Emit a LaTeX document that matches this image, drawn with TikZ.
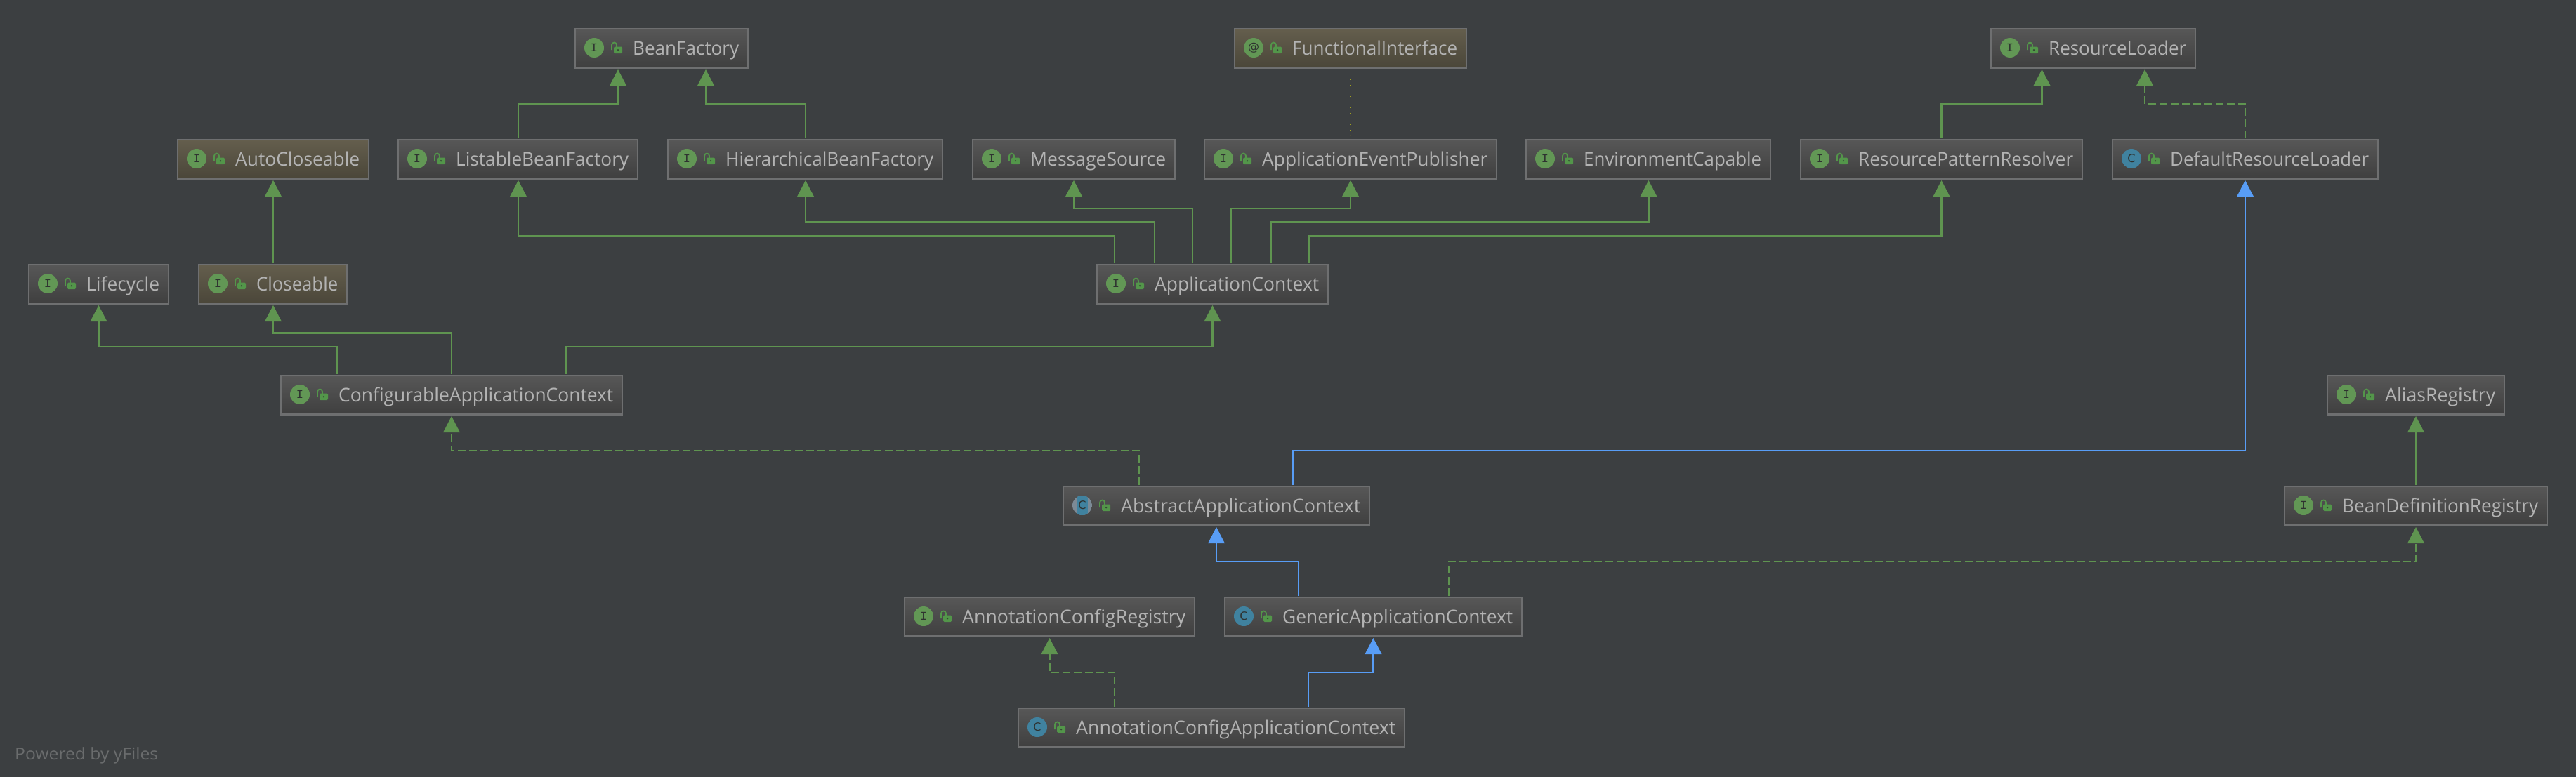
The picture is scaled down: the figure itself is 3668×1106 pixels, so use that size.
\documentclass[tikz,border=0pt]{standalone}
\usepackage{graphicx}
\usepackage{fontspec}
\setmainfont{Open Sans}
\newfontfamily\icomono{Liberation Mono}
\newfontfamily\icosans{DejaVu Sans}
\usetikzlibrary{arrows.meta,calc}
\definecolor{bgc}{HTML}{3C3F41}
\definecolor{bordc}{HTML}{6E6F70}
\definecolor{gtop}{HTML}{575757}
\definecolor{gbot}{HTML}{3F3F3F}
\definecolor{atop}{HTML}{645E4D}
\definecolor{abot}{HTML}{4A4639}
\definecolor{txtc}{HTML}{B3B3B3}
\definecolor{grn}{HTML}{5F9450}
\definecolor{blu}{HTML}{589DF6}
\definecolor{ifc}{HTML}{629755}
\definecolor{clsc}{HTML}{40829F}
\definecolor{absc}{HTML}{7C8A96}
\definecolor{lockc}{HTML}{53964A}
\definecolor{dotc}{HTML}{A0A020}
\definecolor{icod}{HTML}{2E3230}
\definecolor{pwr}{HTML}{6A6C6D}
\tikzset{
  x=1pt,y=-1pt,
  plainbox/.style={draw=bordc,line width=2pt,rectangle,inner sep=0pt,top color=gtop,bottom color=gbot},
  annobox/.style={draw=bordc,line width=2pt,rectangle,inner sep=0pt,top color=atop,bottom color=abot},
  lbl/.style={anchor=base west,inner sep=0pt,text=txtc,font=\fontsize{27}{30}\selectfont},
  icoi/.style={inner sep=0pt,text=icod,font=\icomono\fontsize{17}{17}\selectfont},
  icoc/.style={inner sep=0pt,text=icod,font=\icosans\fontsize{16}{16}\selectfont},
  solidg/.style={draw=grn,line width=2.2pt,shorten <=1pt,shorten >=1pt,-{Triangle[length=23pt,width=24pt,inset=0pt,line width=0pt,fill=grn]}},
  dashg/.style={solidg,dash pattern=on 11pt off 5pt},
  solidb/.style={draw=blu,line width=2.2pt,shorten <=1pt,shorten >=1pt,-{Triangle[length=23pt,width=24pt,inset=0pt,line width=0pt,fill=blu]}},
  dotl/.style={draw=dotc,line width=1.2pt,dash pattern=on 1.2pt off 6.8pt},
}
% name, x0, x1, y0, box style, icon kind (I C A @), label
\newcommand{\clsbox}[7]{%
  \pgfmathsetmacro{\bw}{#3-#2-2}%
  \pgfmathsetmacro{\tw}{#3-#2-97}%
  \pgfmathsetmacro{\cxx}{(#2+#3)/2}%
  \pgfmathsetmacro{\cyy}{#4+29}%
  \node[#5,minimum width=\bw pt,minimum height=56pt] (#1) at (\cxx,\cyy) {};
  \draw[bordc,line width=1.5pt] (#2+1,#4+55.5) -- (#3-1,#4+55.5);
  \ifx#6A
    \begin{scope}
      \clip (#2+28,#4+28) circle (14);
      \fill[absc] (#2+14,#4+14) rectangle (#2+42,#4+42);
      \fill[clsc] (#2+20.5,#4+14) rectangle (#2+35.5,#4+42);
    \end{scope}
    \node[icoc] (#1-ico) at (#2+28,#4+28) {C};
  \else\ifx#6C
    \fill[clsc] (#2+28,#4+28) circle (14);
    \node[icoc] (#1-ico) at (#2+28,#4+28) {C};
  \else\ifx#6I
    \fill[ifc] (#2+28,#4+28) circle (14);
    \node[icoi] (#1-ico) at (#2+28,#4+28) {I};
  \else
    \fill[ifc] (#2+28,#4+28) circle (14);
    \node[icoc] (#1-ico) at (#2+28,#4+28) {@};
  \fi\fi\fi
  \draw[lockc,line width=1.8pt] (#2+53,#4+31) -- (#2+53,#4+24) arc[start angle=180,end angle=360,radius=3.5] -- (#2+60,#4+27);
  \fill[lockc,rounded corners=1.5pt] (#2+56,#4+26.5) rectangle (#2+68,#4+36);
  \fill[icod!80!lockc] (#2+62,#4+31.2) circle (1.3);
  \node[lbl] (#1-txt) at (#2+83,#4+38) {\resizebox{\tw pt}{\height}{#7}};
}
% style, source, source x, bend y, target, target x
\newcommand{\conn}[6]{%
  \draw[#1] (#2.north -| #3,0) -- (#3,#4) -- (#6,#4) -- (#5.south -| #6,0);
}
\begin{document}
\begin{tikzpicture}
\useasboundingbox (0,0) rectangle (3668,1106);
\fill[bgc] (-4,-4) rectangle (3672,1110);
% row 1
\clsbox{bf}{818}{1066}{40}{plainbox}{I}{BeanFactory}
\clsbox{fi}{1757}{2089}{40}{annobox}{@}{FunctionalInterface}
\clsbox{rl}{2834}{3127}{40}{plainbox}{I}{ResourceLoader}
% row 2
\clsbox{auto}{252}{526}{198}{annobox}{I}{AutoCloseable}
\clsbox{lbf}{566}{909}{198}{plainbox}{I}{ListableBeanFactory}
\clsbox{hbf}{950}{1343}{198}{plainbox}{I}{HierarchicalBeanFactory}
\clsbox{ms}{1384}{1674}{198}{plainbox}{I}{MessageSource}
\clsbox{aep}{1714}{2132}{198}{plainbox}{I}{ApplicationEventPublisher}
\clsbox{env}{2172}{2522}{198}{plainbox}{I}{EnvironmentCapable}
\clsbox{rpr}{2563}{2966}{198}{plainbox}{I}{ResourcePatternResolver}
\clsbox{drl}{3007}{3387}{198}{plainbox}{C}{DefaultResourceLoader}
% row 3
\clsbox{life}{40}{241}{376}{plainbox}{I}{Lifecycle}
\clsbox{close}{282}{495}{376}{annobox}{I}{Closeable}
\clsbox{ac}{1561}{1892}{376}{plainbox}{I}{ApplicationContext}
% row 4
\clsbox{cac}{399}{887}{534}{plainbox}{I}{ConfigurableApplicationContext}
\clsbox{alias}{3313}{3567}{534}{plainbox}{I}{AliasRegistry}
% row 5
\clsbox{aac}{1513}{1951}{692}{plainbox}{A}{AbstractApplicationContext}
\clsbox{bdr}{3252}{3628}{692}{plainbox}{I}{BeanDefinitionRegistry}
% row 6
\clsbox{acr}{1287}{1702}{850}{plainbox}{I}{AnnotationConfigRegistry}
\clsbox{gac}{1743}{2168}{850}{plainbox}{C}{GenericApplicationContext}
% row 7
\clsbox{acac}{1449}{2001}{1008}{plainbox}{C}{AnnotationConfigApplicationContext}
% connectors
\conn{solidg}{lbf}{738}{148.3}{bf}{880}
\conn{solidg}{hbf}{1147}{148.3}{bf}{1005}
\draw[solidg] (close.north -| 389,0) -- (auto.south -| 389,0);
\conn{solidg}{ac}{1587}{336.5}{lbf}{738}
\conn{solidg}{ac}{1644}{316.3}{hbf}{1147}
\conn{solidg}{ac}{1698}{296.6}{ms}{1529}
\conn{solidg}{ac}{1753}{296.6}{aep}{1923}
\conn{solidg}{ac}{1809.5}{316.3}{env}{2347.5}
\conn{solidg}{ac}{1864}{336.5}{rpr}{2764.5}
\conn{solidg}{rpr}{2764.5}{148.3}{rl}{2907.5}
\conn{dashg}{drl}{3197}{148.3}{rl}{3054}
\conn{solidg}{cac}{480}{494.3}{life}{140.5}
\conn{solidg}{cac}{643}{474.5}{close}{389}
\conn{solidg}{cac}{806.5}{494.3}{ac}{1726.5}
\conn{dashg}{aac}{1622}{642.3}{cac}{643}
\conn{solidb}{aac}{1841}{642.3}{drl}{3197}
\conn{solidb}{gac}{1849}{800.3}{aac}{1732}
\conn{dashg}{gac}{2063}{800.3}{bdr}{3440}
\conn{dashg}{acac}{1587}{958.3}{acr}{1494.5}
\conn{solidb}{acac}{1863}{958.3}{gac}{1955.5}
\draw[solidg] (bdr.north) -- (alias.south -| bdr.north);
\draw[dotl] ([yshift=-7pt]fi.south) -- ([yshift=5pt]aep.north);
\node[anchor=base west,inner sep=0pt,text=pwr,font=\fontsize{23.5}{26}\selectfont] (pow) at (21,1082) {\resizebox{204pt}{\height}{Powered by yFiles}};
\end{tikzpicture}
\end{document}
